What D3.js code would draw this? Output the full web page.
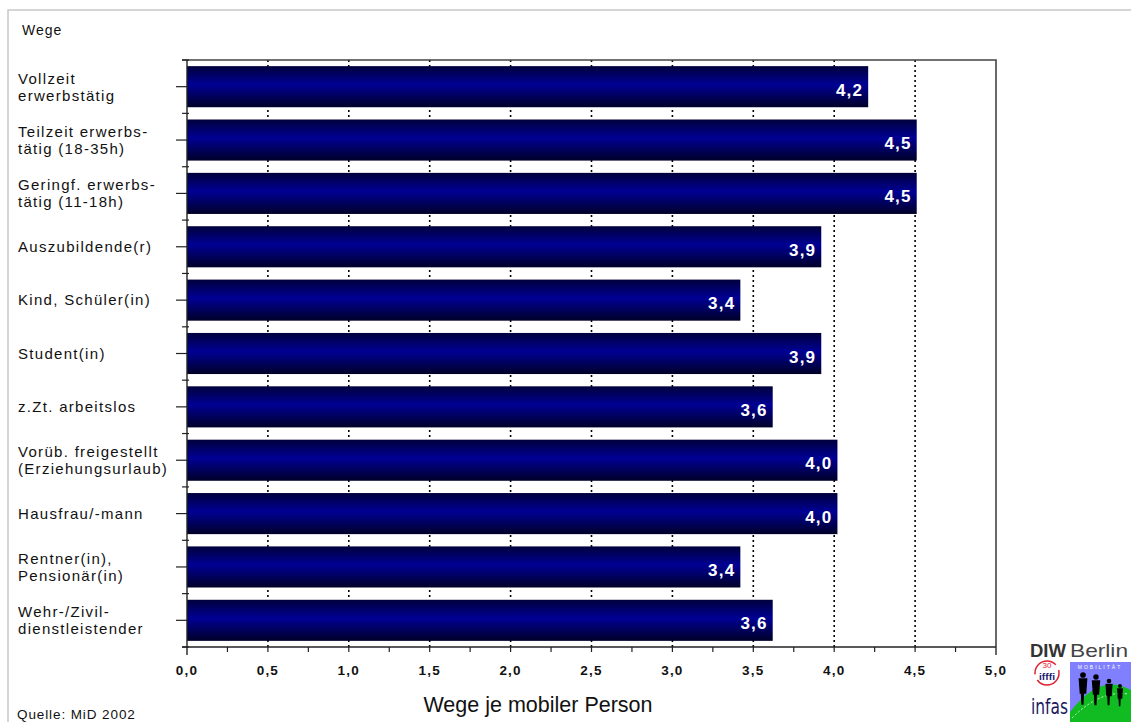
<!DOCTYPE html>
<html>
<head>
<meta charset="utf-8">
<script src="https://cdn.jsdelivr.net/npm/d3@7"></script>
<style>
  html, body { margin: 0; padding: 0; background: #fff; }
  svg { display: block; font-family: "Liberation Sans", Arial, sans-serif; }
</style>
</head>
<body>
<svg id="chart" width="1131" height="722"></svg>
<script>
// ---- data ----
const categories = [
  "Vollzeit\nerwerbstätig",
  "Teilzeit erwerbs-\ntätig (18-35h)",
  "Geringf. erwerbs-\ntätig (11-18h)",
  "Auszubildende(r)",
  "Kind, Schüler(in)",
  "Student(in)",
  "z.Zt.  arbeitslos",
  "Vorüb. freigestellt\n(Erziehungsurlaub)",
  "Hausfrau/-mann",
  "Rentner(in),\nPensionär(in)",
  "Wehr-/Zivil-\ndienstleistender"
];
const values = [4.21, 4.51, 4.51, 3.92, 3.42, 3.92, 3.62, 4.02, 4.02, 3.42, 3.62];
const xTicks = [0, 0.5, 1, 1.5, 2, 2.5, 3, 3.5, 4, 4.5, 5];
const xMinorTicks = [0.25, 0.75, 1.25, 1.75, 2.25, 2.75, 3.25, 3.75, 4.25, 4.75];
const gridTicks = [0.5, 1, 1.5, 2, 2.5, 3, 3.5, 4, 4.5];
const yTitle = "Wege";
const xTitle = "Wege je mobiler Person";
const source = "Quelle: MiD 2002";

(function () {
// ---- layout ----
const svg = d3.select("#chart");
const pL = 187, pR = 996, pT = 60, pB = 647;
const fmt = v => d3.format(".1f")(v).replace(".", ",");

const x = d3.scaleLinear().domain([0, 5]).range([pL, pR]);
const y = d3.scaleBand().domain(d3.range(categories.length)).range([pT, pB]).paddingInner(0.23).paddingOuter(0.115);
const band = d3.scaleBand().domain(d3.range(categories.length)).range([pT, pB]);

// gradient
const defs = svg.append("defs");
const grad = defs.append("linearGradient").attr("id", "barGrad").attr("x1", 0).attr("x2", 0).attr("y1", 0).attr("y2", 1);
grad.append("stop").attr("offset", "0%").attr("stop-color", "#00003c");
grad.append("stop").attr("offset", "45%").attr("stop-color", "#000094");
grad.append("stop").attr("offset", "100%").attr("stop-color", "#000028");

// outer light frame
svg.append("path").attr("d", "M8,722 V10 H1131").attr("fill", "none").attr("stroke", "#c8c8c8").attr("stroke-width", 1.5);

// gridlines (dotted)
svg.append("g").selectAll("line").data(gridTicks).join("line")
  .attr("x1", d => x(d)).attr("x2", d => x(d))
  .attr("y1", pT).attr("y2", pB)
  .attr("stroke", "#000").attr("stroke-width", 1.6).attr("stroke-dasharray", "2,3");

// bars
svg.append("g").selectAll("rect").data(values).join("rect")
  .attr("x", x(0))
  .attr("y", (d, i) => y(i))
  .attr("width", d => x(d) - x(0))
  .attr("height", y.bandwidth())
  .attr("fill", "url(#barGrad)");

// value labels
svg.append("g").selectAll("text").data(values).join("text")
  .attr("x", d => x(d) - 5)
  .attr("y", (d, i) => band(i) + band.bandwidth() / 2 + 9)
  .attr("text-anchor", "end")
  .attr("fill", "#fff")
  .attr("font-size", 17)
  .attr("font-weight", "bold")
  .attr("letter-spacing", 1.2)
  .text(d => fmt(d));

// frame: top and right
svg.append("path").attr("d", `M182,${pT} H${pR} V${pB + 8}`).attr("fill", "none").attr("stroke", "#444").attr("stroke-width", 1.6);

// x axis
const xAxisG = svg.append("g");
xAxisG.append("line").attr("x1", 182).attr("x2", pR).attr("y1", pB).attr("y2", pB).attr("stroke", "#222").attr("stroke-width", 1.4);
xAxisG.selectAll("line.minor").data(xTicks.slice(1, -1).concat(xMinorTicks)).join("line").attr("class", "minor")
  .attr("x1", d => x(d)).attr("x2", d => x(d)).attr("y1", pB).attr("y2", pB + 5)
  .attr("stroke", "#222").attr("stroke-width", 1.2);
xAxisG.selectAll("text").data(xTicks).join("text")
  .attr("x", d => x(d)).attr("y", 675)
  .attr("text-anchor", "middle")
  .attr("font-size", 13.5).attr("font-weight", "bold").attr("letter-spacing", 1.2)
  .attr("fill", "#111")
  .text(d => fmt(d));

// y axis
const yAxisG = svg.append("g");
yAxisG.append("line").attr("x1", pL).attr("x2", pL).attr("y1", pT).attr("y2", pB + 8).attr("stroke", "#222").attr("stroke-width", 1.4);
yAxisG.selectAll("line.major").data(d3.range(categories.length)).join("line").attr("class", "major")
  .attr("x1", pL - 11).attr("x2", pL)
  .attr("y1", i => band(i) + band.bandwidth() / 2).attr("y2", i => band(i) + band.bandwidth() / 2)
  .attr("stroke", "#222").attr("stroke-width", 1.2);
yAxisG.selectAll("line.minor").data(d3.range(categories.length + 1)).join("line").attr("class", "minor")
  .attr("x1", pL - 5).attr("x2", pL + 2)
  .attr("y1", i => pT + i * band.step()).attr("y2", i => pT + i * band.step())
  .attr("stroke", "#222").attr("stroke-width", 1.2);

// category labels
const catG = svg.append("g");
categories.forEach((c, i) => {
  const lines = c.split("\n");
  const cy = band(i) + band.bandwidth() / 2;
  const t = catG.append("text").attr("font-size", 15).attr("letter-spacing", 1.3).attr("fill", "#111");
  if (lines.length === 1) {
    t.append("tspan").attr("x", 18).attr("y", cy + 5).text(lines[0]);
  } else {
    t.append("tspan").attr("x", 18).attr("y", cy - 3).text(lines[0]);
    t.append("tspan").attr("x", 18).attr("y", cy + 14).text(lines[1]);
  }
});

// titles
svg.append("text").attr("x", 22).attr("y", 35).attr("font-size", 14).attr("letter-spacing", 1).attr("fill", "#111").text(yTitle);
svg.append("text").attr("x", 538).attr("y", 712).attr("text-anchor", "middle").attr("font-size", 21.5).attr("fill", "#111").text(xTitle);
svg.append("text").attr("x", 17).attr("y", 719).attr("font-size", 13.5).attr("letter-spacing", 0.9).attr("fill", "#111").text(source);

// ---- logos (decoration) ----
const logo = svg.append("g");
logo.append("text").attr("x", 1030).attr("y", 657).attr("font-size", 19).attr("font-weight", "bold").attr("fill", "#333")
  .attr("textLength", 36).attr("lengthAdjust", "spacingAndGlyphs").text("DIW");
logo.append("text").attr("x", 1070).attr("y", 657).attr("font-size", 19).attr("fill", "#444")
  .attr("textLength", 58).attr("lengthAdjust", "spacingAndGlyphs").text("Berlin");
logo.append("circle").attr("cx", 1047).attr("cy", 673).attr("r", 12).attr("fill", "none").attr("stroke", "#e02030").attr("stroke-width", 1.5).attr("stroke-dasharray", "30,6");
logo.append("text").attr("x", 1047).attr("y", 668).attr("text-anchor", "middle").attr("font-size", 8).attr("fill", "#e02030").text("30");
logo.append("text").attr("x", 1047).attr("y", 680).attr("text-anchor", "middle").attr("font-size", 9).attr("font-weight", "bold").attr("fill", "#1a1a70")
  .attr("textLength", 16).attr("lengthAdjust", "spacingAndGlyphs").text("ifffi");
logo.append("text").attr("x", 1031).attr("y", 714).attr("font-size", 21).attr("fill", "#1a1a60")
  .attr("textLength", 37).attr("lengthAdjust", "spacingAndGlyphs").attr("font-family", "'Liberation Sans Narrow', 'DejaVu Sans Condensed', sans-serif").text("infas");
logo.append("rect").attr("x", 1070).attr("y", 662).attr("width", 61).attr("height", 60).attr("fill", "#8080ff");
logo.append("path").attr("d", "M1070,722 V712 Q1100,672 1131,690 V722 Z").attr("fill", "#11bb22");
logo.append("path").attr("d", "M1072,718 Q1100,690 1128,694").attr("fill", "none").attr("stroke", "#fff").attr("stroke-width", 0.8).attr("stroke-dasharray", "2,2");
logo.append("text").attr("x", 1100).attr("y", 669).attr("text-anchor", "middle").attr("font-size", 5).attr("fill", "#fff").attr("letter-spacing", 2).text("MOBILITÄT");
const people = [[1083, 675, 1.1], [1096, 677, 1.05], [1109, 681, 0.9], [1120, 686, 0.75]];
people.forEach(([px, py, s]) => {
  logo.append("circle").attr("cx", px).attr("cy", py).attr("r", 2.6 * s).attr("fill", "#000");
  logo.append("path").attr("d", `M${px - 4 * s},${py + 3 * s} h${8 * s} l${-1 * s},${14 * s} h${-2 * s} l${-0.5 * s},${10 * s} h${-2 * s} l${-0.5 * s},${-10 * s} h${-1 * s} Z`).attr("fill", "#000");
});
})();
</script>
</body>
</html>
